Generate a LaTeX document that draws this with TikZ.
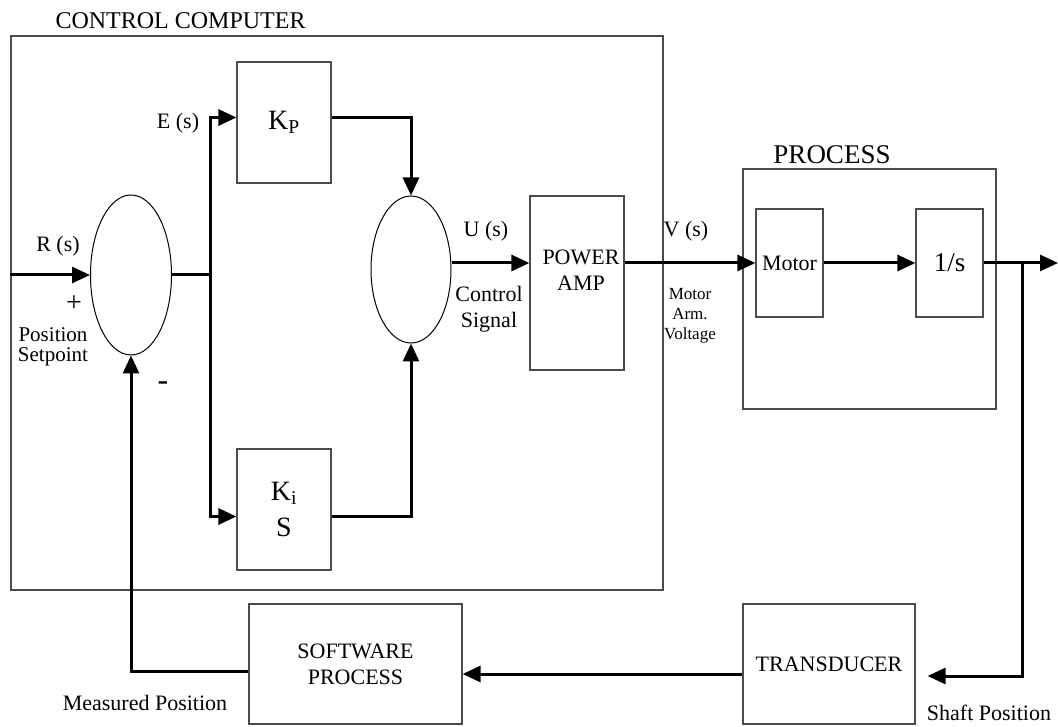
\documentclass[tikz,border=0pt]{standalone}
\usepackage{fontspec}
\setmainfont{Liberation Serif}
\usetikzlibrary{shapes.geometric,arrows.meta}
\begin{document}
\begin{tikzpicture}[x=1pt,y=-1pt,
every node/.style={font=\fontsize{22}{26}\selectfont},
blk/.style={draw=black!70,line width=1.2pt,inner sep=0pt,align=center},
sum/.style={draw,ellipse,line width=1pt,inner sep=0pt,minimum width=81pt},
sig/.style={line width=3pt},
arr/.style={sig,-{Triangle[length=18pt,width=16pt]}}]
\useasboundingbox (0,0) rectangle (1058,727);
\node[blk,minimum width=652pt,minimum height=554pt] (cc) at (337,313) {};
\node[anchor=base west,font=\fontsize{24}{28}\selectfont] (cctitle) at (52,29) {CONTROL COMPUTER};
\node[sum,minimum height=160pt] (e1) at (131,275) {};
\node[sum,minimum width=80pt,minimum height=147pt] (e2) at (411,269.5) {};
\node[blk,minimum width=94pt,minimum height=121pt,font=\fontsize{28}{32}\selectfont] (kp) at (284,122.5) {K\textsubscript{P}};
\node[blk,minimum width=94pt,minimum height=121pt,font=\fontsize{28}{36}\selectfont] (ki) at (284,509.5) {K\textsubscript{i}\\S};
\node[blk,minimum width=94pt,minimum height=174pt] (pa) at (577,283) {};
\node[align=center] (pat) at (581,270) {POWER\\AMP};
\node[blk,minimum width=253pt,minimum height=240pt] (proc) at (869.5,289) {};
\node[font=\fontsize{27}{30}\selectfont] (proct) at (832,155) {PROCESS};
\node[blk,minimum width=67pt,minimum height=108pt] (mot) at (789.5,263) {Motor};
\node[blk,minimum width=67pt,minimum height=108pt,font=\fontsize{27}{30}\selectfont] (integ) at (949.5,263) {1/s};
\node[blk,minimum width=213pt,minimum height=120pt] (sw) at (355.5,664) {SOFTWARE\\PROCESS};
\node[blk,minimum width=172pt,minimum height=120pt] (tr) at (829,664) {TRANSDUCER};

\node (rs) at (58,246) {R (s)};
\node[font=\fontsize{28}{30}\selectfont] (plus) at (74,304) {+};
\node[align=center,font=\fontsize{21}{20}\selectfont] (setp) at (53,347) {Position\\Setpoint};
\node[font=\fontsize{32}{34}\selectfont] (minus) at (163,386) {-};
\node (esl) at (178,123) {E (s)};
\node (us) at (486,231) {U (s)};
\node[align=center] (ctrl) at (489,309) {Control\\Signal};
\node (vs) at (686,231) {V (s)};
\node[align=center,font=\fontsize{17}{20}\selectfont] (mav) at (690,316) {Motor\\Arm.\\Voltage};
\node (meas) at (145,703) {Measured Position};
\node (shaft) at (989,713) {Shaft Position};

\coordinate (es) at (210,275);
\coordinate (br) at (1022,263);
\coordinate (out) at (1058,263);
\draw[arr] (cc.west |- e1.west) -- (e1.west);
\draw[sig] (e1.east) -- (es);
\draw[arr] (es) |- ([yshift=5pt]kp.west);
\draw[arr] (es) |- ([yshift=-7pt]ki.west);
\draw[arr] ([yshift=5pt]kp.east) -| (e2.north);
\draw[arr] ([yshift=-7pt]ki.east) -| (e2.south);
\draw[arr] (e2.east |- mot.west) -- (pa.west |- mot.west);
\draw[arr] (pa.east |- mot.west) -- (mot.west);
\draw[arr] (mot) -- (integ);
\draw[arr] (integ.east) -- (out);
\draw[arr] (br) |- ([xshift=12pt,yshift=-12pt]tr.east);
\draw[arr] ([yshift=-10pt]tr.west) -- ([yshift=-10pt]sw.east);
\draw[arr] ([yshift=-7pt]sw.west) -| (e1.south);
\end{tikzpicture}
\end{document}
